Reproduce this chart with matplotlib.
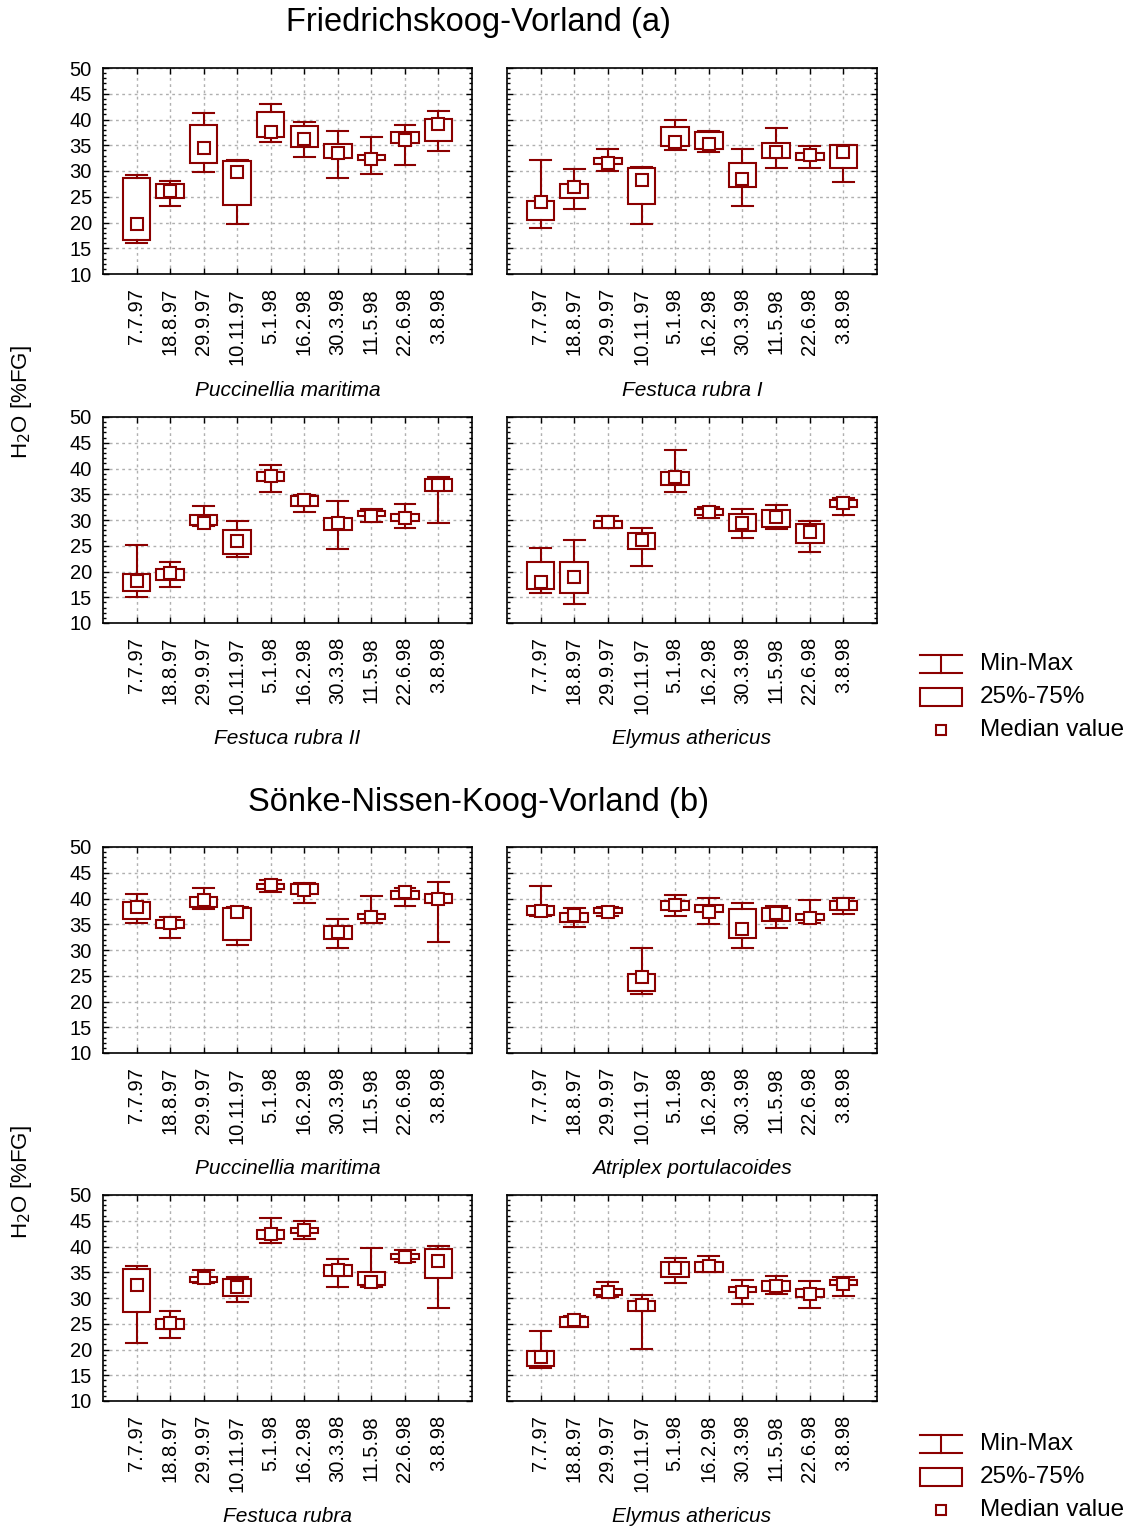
import matplotlib
matplotlib.use("Agg")
import matplotlib.pyplot as plt
from matplotlib.ticker import MultipleLocator
from matplotlib.patches import Rectangle
from matplotlib.lines import Line2D

plt.rcParams['font.family'] = ['Liberation Sans', 'DejaVu Sans']

# ---------------- data ----------------
dates = ["7.7.97", "18.8.97", "29.9.97", "10.11.97", "5.1.98",
         "16.2.98", "30.3.98", "11.5.98", "22.6.98", "3.8.98"]

# (a) Friedrichskoog-Vorland
a_puc_min = [16.0, 23.2, 29.8, 19.8, 35.6, 32.8, 28.7, 29.4, 31.2, 33.9]
a_puc_q1  = [16.6, 24.7, 31.5, 23.4, 36.6, 34.7, 32.5, 32.1, 35.5, 35.9]
a_puc_med = [19.7, 26.2, 34.5, 29.8, 37.6, 36.3, 33.4, 32.4, 36.1, 39.2]
a_puc_q3  = [28.7, 27.4, 38.9, 31.9, 41.4, 38.7, 35.3, 33.2, 37.5, 40.1]
a_puc_max = [29.3, 28.1, 41.2, 32.1, 43.0, 39.5, 37.8, 36.6, 39.0, 41.6]

a_fr1_min = [19.0, 22.7, 30.0, 19.8, 34.0, 33.6, 23.2, 30.6, 30.6, 27.9]
a_fr1_q1  = [20.5, 24.7, 31.3, 23.6, 34.8, 34.2, 26.9, 32.6, 32.1, 30.5]
a_fr1_med = [23.9, 26.8, 31.6, 28.2, 35.7, 35.3, 28.4, 33.7, 33.2, 33.7]
a_fr1_q3  = [24.2, 27.4, 32.5, 30.6, 38.5, 37.5, 31.5, 35.5, 33.4, 35.0]
a_fr1_max = [32.1, 30.4, 34.2, 30.8, 40.0, 37.7, 34.3, 38.4, 34.8, 35.1]

a_fr2_min = [15.1, 16.9, 28.8, 22.9, 35.4, 31.6, 24.4, 29.7, 28.4, 29.4]
a_fr2_q1  = [16.3, 18.4, 29.0, 23.4, 37.6, 32.7, 28.1, 30.7, 29.9, 35.6]
a_fr2_med = [18.2, 19.7, 29.4, 26.0, 38.5, 33.8, 29.4, 30.7, 30.4, 36.7]
a_fr2_q3  = [19.5, 20.4, 30.9, 28.1, 39.4, 34.6, 30.3, 31.8, 31.2, 38.0]
a_fr2_max = [25.2, 21.9, 32.7, 29.8, 40.6, 34.8, 33.6, 32.1, 33.2, 38.4]

a_ely_min = [15.8, 13.7, 28.4, 21.0, 35.4, 30.4, 26.6, 28.3, 23.7, 31.0]
a_ely_q1  = [16.6, 15.9, 28.5, 24.4, 36.7, 30.9, 27.9, 28.6, 25.5, 32.5]
a_ely_med = [17.9, 19.0, 29.6, 26.2, 38.3, 31.5, 29.4, 30.5, 27.6, 33.3]
a_ely_q3  = [21.8, 21.8, 29.9, 27.4, 39.3, 32.2, 31.2, 32.0, 29.3, 33.9]
a_ely_max = [24.6, 26.1, 30.7, 28.5, 43.5, 32.5, 32.1, 32.9, 29.9, 34.2]

# (b) Soenke-Nissen-Koog-Vorland
b_puc_min = [35.3, 32.3, 38.0, 30.9, 41.3, 39.2, 30.3, 35.3, 38.5, 31.6]
b_puc_q1  = [36.0, 34.2, 38.4, 31.9, 41.9, 40.8, 32.2, 36.0, 40.0, 39.2]
b_puc_med = [38.4, 35.3, 39.8, 37.4, 42.6, 41.6, 33.5, 36.5, 41.3, 40.0]
b_puc_q3  = [39.4, 35.8, 40.2, 38.2, 42.9, 42.8, 34.7, 36.9, 41.5, 40.8]
b_puc_max = [40.8, 36.5, 42.1, 38.4, 43.6, 43.1, 36.0, 40.4, 42.0, 43.2]

b_atr_min = [36.6, 34.5, 36.6, 21.5, 36.6, 35.0, 30.3, 34.3, 35.2, 37.0]
b_atr_q1  = [36.7, 35.5, 37.2, 22.0, 37.8, 37.4, 32.3, 35.6, 35.8, 37.8]
b_atr_med = [37.6, 36.7, 37.4, 24.8, 38.7, 37.4, 34.1, 37.1, 36.3, 38.9]
b_atr_q3  = [38.5, 37.2, 38.2, 25.3, 39.5, 38.7, 38.0, 38.2, 36.9, 39.5]
b_atr_max = [42.4, 38.1, 38.4, 30.3, 40.7, 40.1, 39.2, 38.5, 39.8, 40.1]

b_fru_min = [21.2, 22.2, 32.9, 29.2, 40.7, 41.5, 32.1, 32.1, 36.9, 28.1]
b_fru_q1  = [27.3, 23.9, 33.1, 30.4, 41.4, 42.7, 34.3, 32.5, 37.6, 33.9]
b_fru_med = [32.5, 25.2, 33.8, 32.2, 42.4, 43.2, 35.4, 33.1, 38.0, 37.2]
b_fru_q3  = [35.6, 25.9, 34.1, 33.6, 43.2, 43.6, 36.4, 35.1, 38.6, 39.6]
b_fru_max = [36.2, 27.4, 35.5, 34.1, 45.6, 44.9, 37.6, 39.8, 39.4, 40.1]

b_ely_min = [16.5, 24.3, 30.2, 20.1, 33.0, 35.0, 28.9, 30.7, 28.1, 30.4]
b_ely_q1  = [16.7, 24.4, 30.5, 27.4, 34.0, 35.1, 31.1, 31.4, 30.1, 32.5]
b_ely_med = [18.6, 25.7, 31.2, 28.6, 35.8, 36.3, 31.2, 32.3, 30.7, 32.8]
b_ely_q3  = [19.7, 26.3, 31.8, 29.4, 36.9, 36.9, 32.2, 33.3, 31.8, 33.5]
b_ely_max = [23.5, 26.6, 33.1, 30.5, 37.8, 38.2, 33.4, 34.3, 33.3, 34.1]

species_a = ["Puccinellia maritima", "Festuca rubra I", "Festuca rubra II", "Elymus athericus"]
species_b = ["Puccinellia maritima", "Atriplex portulacoides", "Festuca rubra", "Elymus athericus"]
titles = ["Friedrichskoog-Vorland (a)", "Sönke-Nissen-Koog-Vorland (b)"]
legend_labels = ["Min-Max", "25%-75%", "Median value"]
ylabel = "H$_2$O [%FG]"

panels = [
    (a_puc_min, a_puc_q1, a_puc_med, a_puc_q3, a_puc_max),
    (a_fr1_min, a_fr1_q1, a_fr1_med, a_fr1_q3, a_fr1_max),
    (a_fr2_min, a_fr2_q1, a_fr2_med, a_fr2_q3, a_fr2_max),
    (a_ely_min, a_ely_q1, a_ely_med, a_ely_q3, a_ely_max),
    (b_puc_min, b_puc_q1, b_puc_med, b_puc_q3, b_puc_max),
    (b_atr_min, b_atr_q1, b_atr_med, b_atr_q3, b_atr_max),
    (b_fru_min, b_fru_q1, b_fru_med, b_fru_q3, b_fru_max),
    (b_ely_min, b_ely_q1, b_ely_med, b_ely_q3, b_ely_max),
]
species = species_a + species_b

# ---------------- layout ----------------
W, H = 1133, 1528
fig = plt.figure(figsize=(W / 100, H / 100), dpi=100)
C = '#8B0000'
LW = 1.5
MS = 8

def rect(l, r, t, b):
    return [l / W, 1 - b / H, (r - l) / W, (b - t) / H]

lefts = [(103, 472), (507, 877)]
tops = [68, 417, 847, 1195]
PH = 206

for i, stats_arr in enumerate(panels):
    row, col = divmod(i, 2)
    l, r = lefts[col]
    t = tops[row]
    ax = fig.add_axes(rect(l, r, t, t + PH))
    mn, q1, md, q3, mx = stats_arr
    stats = [dict(med=md[k], q1=q1[k], q3=q3[k], whislo=mn[k], whishi=mx[k],
                  mean=md[k]) for k in range(len(dates))]
    ax.bxp(stats, positions=list(range(1, len(dates) + 1)), widths=0.82,
           capwidths=0.62, showmeans=True, meanline=False, showfliers=False,
           patch_artist=True,
           boxprops=dict(facecolor='white', edgecolor=C, linewidth=LW, zorder=3),
           whiskerprops=dict(color=C, linewidth=LW, zorder=3),
           capprops=dict(color=C, linewidth=LW, zorder=3),
           medianprops=dict(linestyle='none'),
           meanprops=dict(marker='s', markersize=MS, markerfacecolor='white',
                          markeredgecolor=C, markeredgewidth=LW, zorder=4))
    ax.set_xlim(0, 11)
    ax.set_ylim(10, 50)
    ax.set_xticks(range(1, len(dates) + 1))
    ax.set_xticklabels(dates, rotation=90, fontsize=14.5)
    ax.set_yticks(range(10, 51, 5))
    if col == 0:
        ax.set_yticklabels([str(v) for v in range(10, 51, 5)], fontsize=14.5)
    else:
        ax.set_yticklabels([])
    ax.yaxis.set_minor_locator(MultipleLocator(1))
    ax.tick_params(which='both', direction='in', top=True, right=True, width=1)
    ax.tick_params(which='major', length=4)
    ax.tick_params(which='minor', length=2)
    ax.tick_params(axis='y', pad=8)
    ax.tick_params(axis='x', pad=10)
    ax.grid(True, which='major', linestyle=(0, (2, 2.5)), color='#b0b0b0', linewidth=1)
    ax.set_axisbelow(True)
    for s in ax.spines.values():
        s.set_linewidth(1.2)
    cx = (l + r) / 2
    ylab = t + PH + 116
    fig.text(cx / W, 1 - ylab / H, species[i], ha='center', va='center',
             fontsize=15, style='italic')

# titles
fig.text(478 / W, 1 - 22 / H, titles[0], ha='center', va='center', fontsize=23.5)
fig.text(478 / W, 1 - 802 / H, titles[1], ha='center', va='center', fontsize=23.5)

# y labels
fig.text(22 / W, 1 - 402 / H, ylabel, ha='center', va='center', rotation=90, fontsize=16)
fig.text(22 / W, 1 - 1182 / H, ylabel, ha='center', va='center', rotation=90, fontsize=16)

# legends (drawn in a pixel-coordinate overlay axes)
lax = fig.add_axes([0, 0, 1, 1])
lax.set_xlim(0, W)
lax.set_ylim(H, 0)
lax.axis('off')
for y0 in (664, 1444):
    # min-max symbol
    lax.add_line(Line2D([920, 962], [y0 - 9, y0 - 9], color=C, lw=LW))
    lax.add_line(Line2D([920, 962], [y0 + 9, y0 + 9], color=C, lw=LW))
    lax.add_line(Line2D([941, 941], [y0 - 9, y0 + 9], color=C, lw=LW))
    lax.text(980, y0, legend_labels[0], va='center', ha='left', fontsize=17.5)
    # box symbol
    lax.add_patch(Rectangle((920, y0 + 24), 42, 18, facecolor='white',
                            edgecolor=C, lw=LW))
    lax.text(980, y0 + 33, legend_labels[1], va='center', ha='left', fontsize=17.5)
    # median symbol
    lax.plot([941], [y0 + 66], marker='s', markersize=7.5, markerfacecolor='white',
             markeredgecolor=C, markeredgewidth=LW)
    lax.text(980, y0 + 66, legend_labels[2], va='center', ha='left', fontsize=17.5)

fig.savefig("out.png", dpi=100)
